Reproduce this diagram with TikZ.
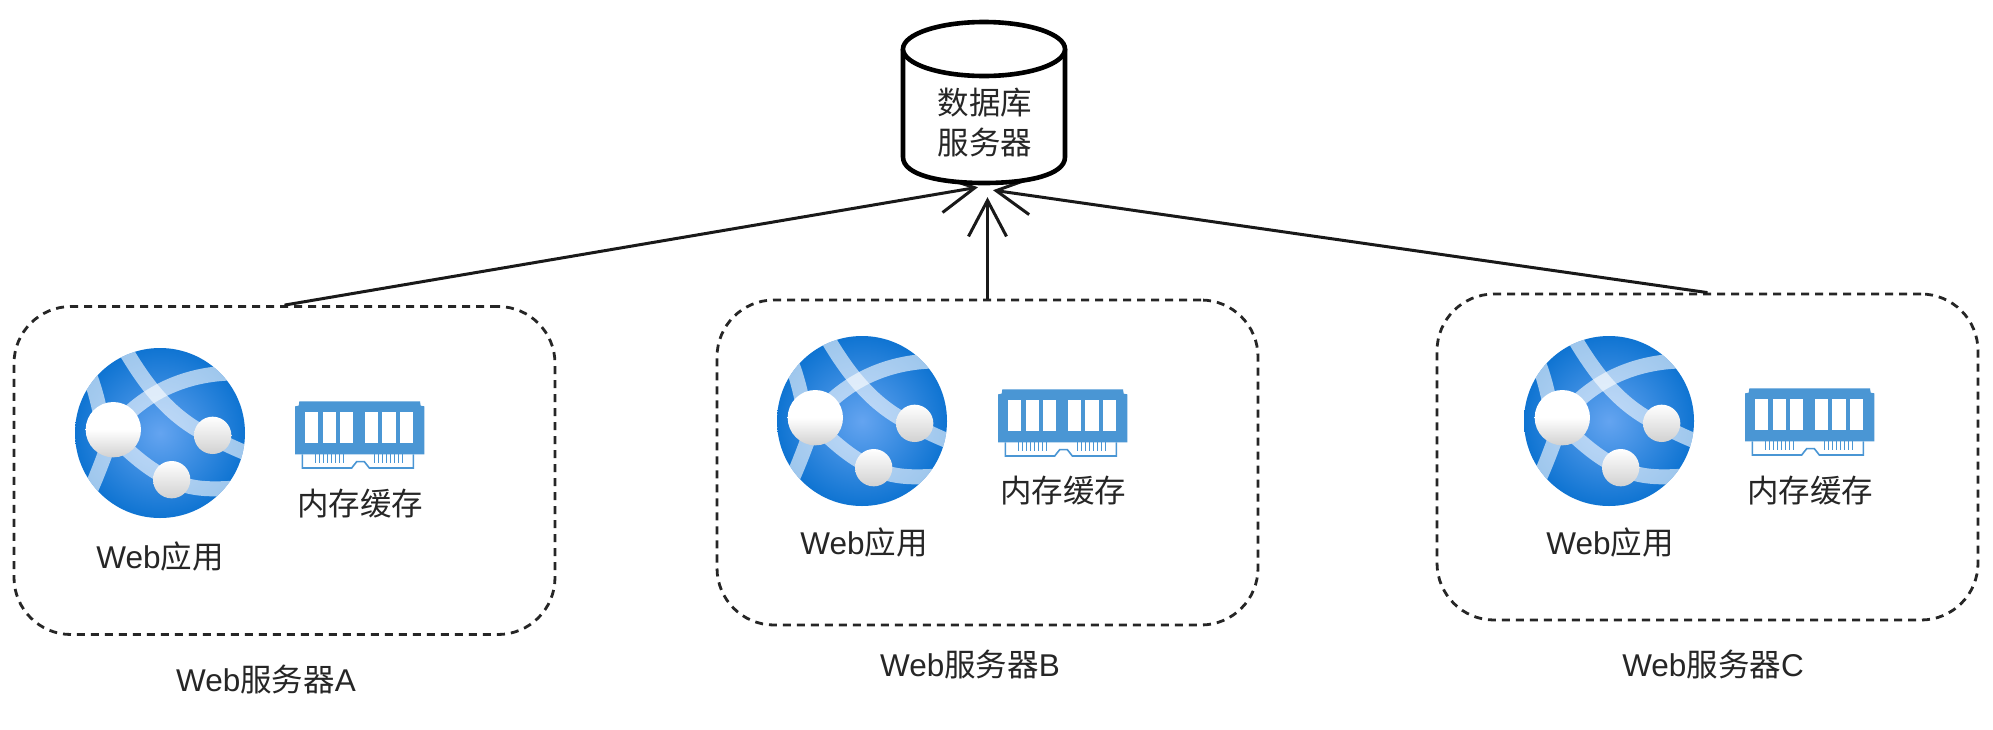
\documentclass[tikz,border=0pt]{standalone}
\usepackage{fontspec}
\setmainfont{Liberation Sans}
\newfontfamily\cjkf{Noto Sans CJK SC}
\usetikzlibrary{arrows.meta}
\definecolor{membl}{HTML}{4A96D4}
\definecolor{globeout}{HTML}{0F74D2}
\definecolor{globein}{HTML}{64A4F0}
\newcommand{\zh}[1]{{\cjkf #1}}
\tikzset{
  x=1pt,y=-1pt,
  serverbox/.style={draw=black!85,line width=2.8pt,dash pattern=on 8pt off 6pt,rounded corners=57pt,inner sep=0pt},
  lbl/.style={font=\fontsize{31.5}{40}\selectfont,text=black!85,inner sep=0pt,align=center},
  link/.style={draw=black!90,line width=3pt,-{Straight Barb[length=36pt,width=38pt,line width=3pt]}},
  band/.style={draw=white,opacity=.6,line width=15pt},
  pin/.style={draw=membl,line width=1pt},
  globe/.pic={
    \begin{scope}[scale=1/3,shift={(-330,-340)}]
      \begin{scope}
        \clip (330,340) circle (255);
        \shade[inner color=globein,outer color=globeout] (330,340) circle (255);
        \draw[band] (225,90) .. controls (290,200) and (360,290) .. (470,345) .. controls (510,365) and (550,385) .. (600,405);
        \draw[band] (190,330) .. controls (270,230) and (390,165) .. (540,160);
        \draw[band] (120,170) .. controls (135,210) and (145,250) .. (155,300);
        \draw[band] (170,390) .. controls (155,430) and (140,470) .. (122,510);
        \draw[band] (190,350) .. controls (250,410) and (310,460) .. (365,480) .. controls (420,510) and (480,510) .. (560,505);
      \end{scope}
      \shade[top color=white,bottom color=black!18,middle color=white] (190,330) circle (83);
      \shade[top color=white,bottom color=black!18] (488,347) circle (56);
      \shade[top color=white,bottom color=black!18] (365,480) circle (56);
    \end{scope}
  },
  memory/.pic={
    \begin{scope}[scale=1/3,shift={(-930,-344)}]
      \fill[membl] (748,243) -- (1110,243) -- (1112,256) -- (1123,258) -- (1123,402) -- (735,402) -- (735,258) -- (746,256) -- cycle;
      \foreach \a/\b in {765/805,818/857,870/910,945/985,997/1037,1050/1090}
        \fill[white] (\a,275) rectangle (\b,367);
      \draw[membl,line width=1.6pt] (757,402) -- (757,443) -- (905,443) -- (920,424) -- (943,424) -- (958,443) -- (1090,443) -- (1090,402);
      \foreach \p in {795,807,...,885,972,984,...,1056}
        \draw[pin] (\p,402) -- (\p,428);
    \end{scope}
  }
}
\begin{document}
\begin{tikzpicture}
\useasboundingbox (0,0) rectangle (1993,729);
\fill[white] (0,0) rectangle (1993,729);

% server boxes
\node[serverbox,minimum width=541pt,minimum height=328pt] (A) at (284.5,470.5) {};
\node[serverbox,minimum width=541pt,minimum height=325pt] (B) at (987.5,462.5) {};
\node[serverbox,minimum width=541pt,minimum height=326pt] (C) at (1707.5,457) {};

% database anchor
\node[minimum width=162pt,minimum height=161pt,inner sep=0pt] (db) at (984,103) {};

% connectors
\coordinate (ea) at ([shift={(-6,3.5)}]db.south);
\coordinate (eb) at ([shift={(2,13.5)}]db.south);
\coordinate (ec) at ([shift={(9,6.5)}]db.south);
\draw[link] (A.north) -- (ea);
\draw[link] (B.north) -- (B.north |- eb);
\draw[link] (C.north) -- (ec);

% database
\draw[black,line width=4.6pt,fill=white] (903,49) -- (903,157) .. controls (903,175) and (940,183) .. (984,183) .. controls (1028,183) and (1065,175) .. (1065,157) -- (1065,49);
\draw[black,line width=4.6pt,fill=white] (984,49) ellipse [x radius=81,y radius=27];
\node[lbl] (dbt) at (985,123) {\zh{数据库}\\\zh{服务器}};

% icons
\pic at (160,433) {globe};
\pic at (360,435) {memory};
\pic at (862,421) {globe};
\pic at (1063,423) {memory};
\pic at (1609,421) {globe};
\pic at (1810,422) {memory};

% labels
\node[lbl] (wa) at (160,557) {Web\zh{应用}};
\node[lbl] (ma) at (360,504) {\zh{内存缓存}};
\node[lbl] (wb) at (864,543) {Web\zh{应用}};
\node[lbl] (mb) at (1063,491) {\zh{内存缓存}};
\node[lbl] (wc) at (1610,543) {Web\zh{应用}};
\node[lbl] (mc) at (1810,491) {\zh{内存缓存}};
\node[lbl] (la) at (266,680) {Web\zh{服务器}A};
\node[lbl] (lb) at (970,665) {Web\zh{服务器}B};
\node[lbl] (lc) at (1713,665) {Web\zh{服务器}C};
\end{tikzpicture}
\end{document}
